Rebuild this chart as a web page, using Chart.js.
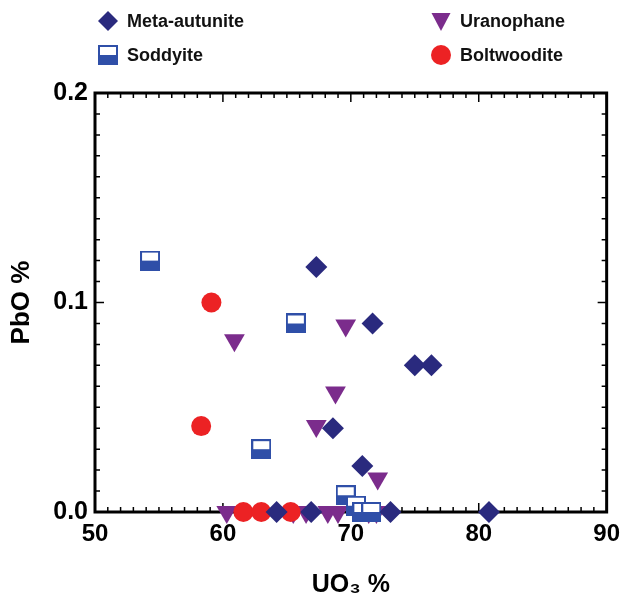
<!DOCTYPE html>
<html>
<head>
<meta charset="utf-8">
<script src="https://cdn.jsdelivr.net/npm/chart.js@4.4.0/dist/chart.umd.min.js"></script>
<style>
  body { margin: 0; background: #fff; }
  #wrap { position: relative; width: 628px; height: 600px; }
  .leg { position: absolute; font: bold 18px "Liberation Sans", Arial, sans-serif; color: #111; display: flex; align-items: center; }
  .leg canvas { margin-right: 8px; }
</style>
</head>
<body>
<div id="wrap">
  <canvas id="myChart" width="628" height="600"></canvas>
</div>
<script>
// Meta-autunite
const metaX = [67.3, 71.7, 75.0, 76.3, 68.6, 70.9, 64.2, 66.9, 73.1, 80.8];
const metaY = [0.117, 0.090, 0.070, 0.070, 0.040, 0.022, 0, 0, 0, 0];
// Uranophane
const uraX = [60.9, 69.6, 68.8, 67.3, 72.1, 60.3, 65.5, 66.5, 68.2, 69.0, 71.4, 72.0];
const uraY = [0.082, 0.089, 0.057, 0.041, 0.016, 0, 0, 0, 0, 0, 0, 0];
// Soddyite
const sodX = [54.3, 65.7, 63.0, 69.6, 70.4, 70.9, 71.6];
const sodY = [0.120, 0.090, 0.030, 0.008, 0.003, 0, 0];
// Boltwoodite
const boltX = [59.1, 58.3, 61.6, 63.0, 65.3];
const boltY = [0.100, 0.041, 0, 0, 0];

const xTicks = [50, 60, 70, 80, 90];
const yTicks = [0, 0.1, 0.2];

const NAVY = '#2a2a7e', PURPLE = '#7b2c8c', BLUE = '#2f4fa8', RED = '#ec2224';

function pts(xs, ys) {
	return xs.map((x, i) => ({x: x, y: ys[i]}));
}

// half filled square marker
function halfSquare(size) {
	const c = document.createElement('canvas');
	c.width = size; c.height = size;
	const g = c.getContext('2d');
	g.fillStyle = '#fff';
	g.fillRect(0, 0, size, size);
	g.fillStyle = BLUE;
	g.fillRect(0, size / 2, size, size / 2);
	g.strokeStyle = BLUE;
	g.lineWidth = 2;
	g.strokeRect(1, 1, size - 2, size - 2);
	return c;
}
const sodMarker = halfSquare(20);

// frame + inward ticks on all four sides
const framePlugin = {
	id: 'frame',
	beforeDatasetsDraw(chart) {
		const {ctx, chartArea: a, scales: {x, y}} = chart;
		ctx.save();
		ctx.strokeStyle = '#000';
		ctx.lineWidth = 1.5;
		ctx.beginPath();
		for (let v = 50; v <= 90; v++) {
			const px = x.getPixelForValue(v);
			const len = v % 10 === 0 ? 9 : 5;
			ctx.moveTo(px, a.bottom); ctx.lineTo(px, a.bottom - len);
			ctx.moveTo(px, a.top); ctx.lineTo(px, a.top + len);
		}
		for (let i = 0; i <= 20; i++) {
			const py = y.getPixelForValue(i / 100);
			const len = i % 10 === 0 ? 9 : 5;
			ctx.moveTo(a.left, py); ctx.lineTo(a.left + len, py);
			ctx.moveTo(a.right, py); ctx.lineTo(a.right - len, py);
		}
		ctx.stroke();
		ctx.lineWidth = 3;
		ctx.strokeRect(a.left, a.top, a.right - a.left, a.bottom - a.top);
		ctx.restore();
	}
};

const ctx = document.getElementById('myChart');
const plot = new Chart(ctx, {
	type: 'scatter',
	data: {
		datasets: [
			{label: 'Meta-autunite', data: pts(metaX, metaY), pointStyle: 'rectRot', pointRadius: 11,
				backgroundColor: NAVY, borderColor: NAVY, borderWidth: 0, clip: false},
			{label: 'Boltwoodite', data: pts(boltX, boltY), pointStyle: 'circle', pointRadius: 10,
				backgroundColor: RED, borderColor: RED, borderWidth: 0, clip: false},
			{label: 'Soddyite', data: pts(sodX, sodY), pointStyle: sodMarker, pointRadius: 10, clip: false},
			{label: 'Uranophane', data: pts(uraX, uraY), pointStyle: 'triangle', rotation: 180, pointRadius: 12,
				backgroundColor: PURPLE, borderColor: PURPLE, borderWidth: 0, clip: false}
		]
	},
	options: {
		responsive: false,
		animation: false,
		layout: {padding: {top: 93, right: 18, left: 0, bottom: 0}},
		plugins: {legend: {display: false}, tooltip: {enabled: false}},
		scales: {
			x: {
				type: 'linear', min: 50, max: 90,
				afterBuildTicks: s => { s.ticks = xTicks.map(v => ({value: v})); },
				afterFit: s => { s.height = 88; },
				grid: {display: false, drawTicks: false},
				border: {display: false},
				ticks: {color: '#000', padding: 8, font: {family: 'Liberation Sans', size: 24, weight: 'bold'}},
				title: {display: true, text: 'UO₃ %', color: '#000', padding: {top: 0, bottom: 0},
					font: {family: 'Liberation Sans', size: 25, weight: 'bold'}}
			},
			y: {
				type: 'linear', min: 0, max: 0.2,
				afterBuildTicks: s => { s.ticks = yTicks.map(v => ({value: v})); },
				afterFit: s => { s.width = 95; },
				grid: {display: false, drawTicks: false},
				border: {display: false},
				ticks: {color: '#000', padding: 7, callback: v => v.toFixed(1),
					font: {family: 'Liberation Sans', size: 25, weight: 'bold'}},
				title: {display: true, text: 'PbO %', color: '#000', padding: {top: 6, bottom: 0},
					font: {family: 'Liberation Sans', size: 26, weight: 'bold'}}
			}
		}
	},
	plugins: [framePlugin]
});

// legend in two columns
const legendItems = [
	{label: 'Meta-autunite', x: 97, y: 21, draw: 'diamond', color: NAVY},
	{label: 'Soddyite', x: 97, y: 55, draw: 'square', color: BLUE},
	{label: 'Uranophane', x: 430, y: 21, draw: 'triangle', color: PURPLE},
	{label: 'Boltwoodite', x: 430, y: 55, draw: 'circle', color: RED}
];
const wrap = document.getElementById('wrap');
legendItems.forEach(item => {
	const d = document.createElement('div');
	d.className = 'leg';
	d.style.left = item.x + 'px';
	d.style.top = (item.y - 11) + 'px';
	d.style.height = '22px';
	const c = document.createElement('canvas');
	c.width = 22; c.height = 22;
	const g = c.getContext('2d');
	g.fillStyle = item.color;
	g.beginPath();
	if (item.draw === 'diamond') {
		g.moveTo(11, 1); g.lineTo(21, 11); g.lineTo(11, 21); g.lineTo(1, 11);
	} else if (item.draw === 'triangle') {
		g.moveTo(1.5, 3); g.lineTo(20.5, 3); g.lineTo(11, 21);
	} else if (item.draw === 'circle') {
		g.arc(11, 11, 10, 0, Math.PI * 2);
	}
	g.closePath();
	if (item.draw === 'square') {
		g.drawImage(sodMarker, 1, 1);
	} else {
		g.fill();
	}
	d.appendChild(c);
	const s = document.createElement('span');
	s.textContent = item.label;
	d.appendChild(s);
	wrap.appendChild(d);
});
</script>
</body>
</html>
